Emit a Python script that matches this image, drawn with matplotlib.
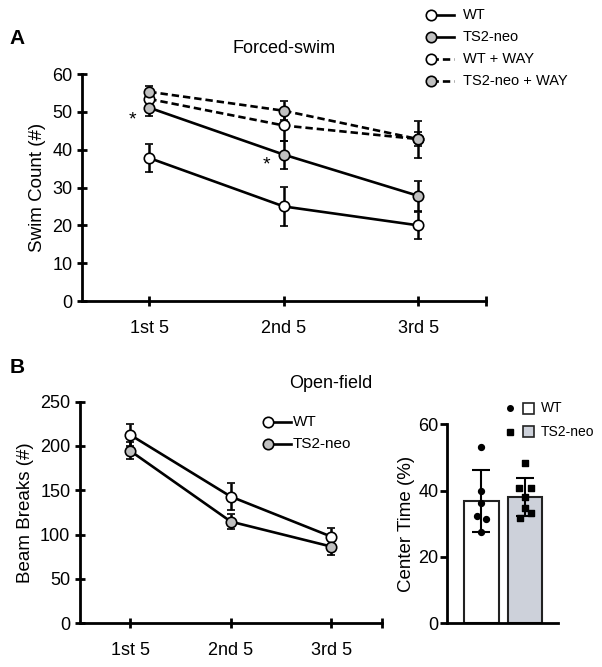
import numpy as np
import matplotlib.pyplot as plt
from matplotlib.lines import Line2D
from matplotlib.patches import Rectangle

plt.rcParams['font.family'] = ['Liberation Sans', 'DejaVu Sans']

# ---- data, panel A (forced swim) ----
blocks = ["1st 5", "2nd 5", "3rd 5"]
fs_wt = [37.8, 25.0, 20.0]
fs_wt_err = [3.8, 5.2, 3.5]
fs_ts2 = [51.1, 38.7, 27.8]
fs_ts2_err = [2.3, 3.7, 4.0]
fs_wt_way = [53.4, 46.4, 42.8]
fs_wt_way_err = [2.0, 4.1, 1.8]
fs_ts2_way = [55.3, 50.3, 42.8]
fs_ts2_way_err = [1.6, 2.5, 4.9]
star_pos = [(0.875, 47.9), (1.87, 36.0)]

# ---- data, panel B (open field) ----
of_wt = [212.5, 142.9, 97.7]
of_wt_err = [12.5, 15.0, 9.5]
of_ts2 = [194.5, 114.7, 86.5]
of_ts2_err = [9.5, 8.2, 9.4]

# center time (%)
ct_groups = ["WT", "TS2-neo"]
ct_wt_pts = [53.3, 40.0, 36.2, 32.4, 31.4, 27.4]
ct_wt_jit = [0, 0, 0, -0.1, 0.1, 0]
ct_ts2_pts = [48.4, 40.7, 40.7, 38.2, 34.9, 33.2, 31.8]
ct_ts2_jit = [0, -0.14, 0.13, 0, 0, 0.13, -0.11]
ct_mean = [36.8, 38.2]
ct_sd = [9.3, 5.7]

GRAY = "#c0c0c0"
BARGRAY = "#cdd1da"
LW = 1.9
DASH = (0, (2.8, 1.5))

fig = plt.figure(figsize=(6.02, 6.67), dpi=100)


def style_axes(ax, tickdir="inout", ticklen=7):
    for s in ["top", "right"]:
        ax.spines[s].set_visible(False)
    for s in ["left", "bottom"]:
        ax.spines[s].set_linewidth(2.0)
    ax.tick_params(direction=tickdir, length=ticklen, width=2.0, labelsize=13)


def series(ax, y, err, fill, ls):
    x = np.arange(1, len(y) + 1)
    ax.errorbar(x, y, yerr=err, color="black", lw=LW, ls=ls, marker="o",
                ms=7.5, mfc=fill, mec="black", mew=1.2, capsize=3, capthick=2.2,
                elinewidth=1.8, zorder=3)


# ---------- Panel A ----------
axA = fig.add_axes([0.1362, 0.5487, 0.6703, 0.3403])
series(axA, fs_wt_way, fs_wt_way_err, "white", DASH)
series(axA, fs_ts2_way, fs_ts2_way_err, GRAY, DASH)
series(axA, fs_wt, fs_wt_err, "white", "-")
series(axA, fs_ts2, fs_ts2_err, GRAY, "-")
for sx, sy in star_pos:
    axA.text(sx, sy, "*", ha="center", va="center", fontsize=14)
axA.set_xlim(0.5, 3.5)
axA.set_ylim(0, 60)
axA.set_yticks(range(0, 61, 10))
axA.set_xticks([1, 2, 3])
axA.set_xticklabels(blocks)
axA.set_xticks([3.5], minor=True)
axA.tick_params(axis="x", which="minor", direction="inout", length=7, width=2)
axA.set_ylabel("Swim Count (#)", fontsize=13.5, labelpad=4)
style_axes(axA)
axA.tick_params(axis="x", pad=10)
fig.text(0.472, 0.928, "Forced-swim", ha="center", va="center", fontsize=13)
fig.text(0.028, 0.943, "A", ha="center", va="center", fontsize=15, fontweight="bold")

# legend A (drawn by hand: marker then line stub)
leg_rows = [("WT", "white", "-"), ("TS2-neo", GRAY, "-"),
            ("WT + WAY", "white", DASH), ("TS2-neo + WAY", GRAY, DASH)]
for i, (lab, fill, ls) in enumerate(leg_rows):
    yy = 1 - (15 + i * 22) / 667
    x0, x1 = 431 / 602, 454 / 602
    fig.add_artist(Line2D([x0, x1], [yy, yy], color="black", lw=LW, ls=ls))
    fig.add_artist(Line2D([x0], [yy], marker="o", ms=7.5, mfc=fill, mec="black", mew=1.2))
    fig.text(463 / 602, yy, lab, ha="left", va="center", fontsize=10.5)

# ---------- Panel B left ----------
axB = fig.add_axes([0.1329, 0.0655, 0.5012, 0.3323])
series(axB, of_wt, of_wt_err, "white", "-")
series(axB, of_ts2, of_ts2_err, GRAY, "-")
axB.set_xlim(0.5, 3.5)
axB.set_ylim(0, 250)
axB.set_yticks(range(0, 251, 50))
axB.set_xticks([1, 2, 3])
axB.set_xticklabels(blocks)
axB.set_xticks([3.5], minor=True)
axB.tick_params(axis="x", which="minor", direction="inout", length=7, width=2)
axB.set_ylabel("Beam Breaks (#)", fontsize=13.5, labelpad=4)
style_axes(axB)
axB.tick_params(axis="x", pad=10)
fig.text(0.55, 0.4243, "Open-field", ha="center", va="center", fontsize=13)
fig.text(0.028, 0.4483, "B", ha="center", va="center", fontsize=15, fontweight="bold")

for i, (lab, fill) in enumerate([("WT", "white"), ("TS2-neo", GRAY)]):
    yy = 1 - (422 + i * 21.5) / 667
    x0, x1 = 268 / 602, 291 / 602
    fig.add_artist(Line2D([x0, x1], [yy, yy], color="black", lw=LW))
    fig.add_artist(Line2D([x0], [yy], marker="o", ms=7.5, mfc=fill, mec="black", mew=1.2))
    fig.text(293 / 602, yy, lab, ha="left", va="center", fontsize=11)

# ---------- Panel B right ----------
axC = fig.add_axes([0.742, 0.0655, 0.1854, 0.2984])
xc = np.arange(len(ct_groups))
axC.bar(xc, ct_mean, width=0.79, color=["white", BARGRAY], edgecolor="#222222",
        linewidth=1.5, zorder=1)
axC.errorbar(xc, ct_mean, yerr=ct_sd, fmt="none", ecolor="black", elinewidth=1.5,
             capsize=6.5, capthick=1.5, zorder=2)
axC.scatter(xc[0] + np.array(ct_wt_jit), ct_wt_pts, s=18, marker="o", color="black", zorder=3)
axC.scatter(xc[1] + np.array(ct_ts2_jit), ct_ts2_pts, s=20, marker="s", color="black", zorder=3)
axC.set_xlim(-0.79, 1.76)
axC.set_ylim(0, 60)
axC.set_yticks([0, 20, 40, 60])
axC.set_xticks([])
axC.set_ylabel("Center Time (%)", fontsize=13.5, labelpad=2)
style_axes(axC, tickdir="out", ticklen=5)
axC.tick_params(axis="y", pad=1)

for i, (lab, mk, fill) in enumerate([("WT", "o", "white"), ("TS2-neo", "s", BARGRAY)]):
    yy = 1 - (408.3 + i * 23.4) / 667
    fig.add_artist(Line2D([510 / 602], [yy], marker=mk, ms=4, color="black", ls="none"))
    fig.add_artist(Rectangle((523 / 602, yy - 5.2 / 667), 10.5 / 602, 10.5 / 667,
                             facecolor=fill, edgecolor="#222222", lw=1.2))
    fig.text(540.7 / 602, yy, lab, ha="left", va="center", fontsize=10)

fig.savefig("out.png", dpi=100)
